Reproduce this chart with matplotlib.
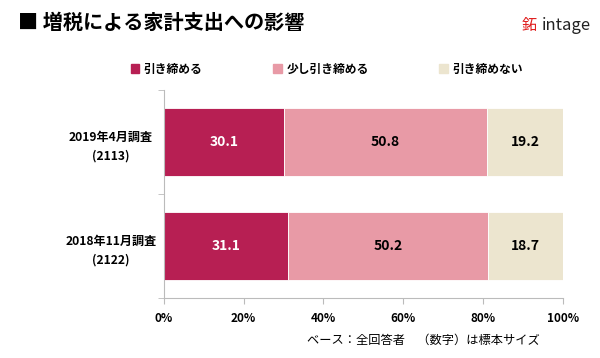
import numpy as np
import matplotlib.pyplot as plt
from matplotlib.patches import Patch

plt.rcParams['font.family'] = ['Noto Sans CJK JP', 'DejaVu Sans']

# data
surveys = ["2019年4月調査\n(2113)", "2018年11月調査\n(2122)"]
series_names = ["引き締める", "少し引き締める", "引き締めない"]
tighten = [30.1, 31.1]
tighten_little = [50.8, 50.2]
no_tighten = [19.2, 18.7]
colors = ["#B71F53", "#E89AA6", "#ECE5CF"]
text_colors = ["white", "black", "black"]

fig = plt.figure(figsize=(6, 3.58), dpi=100)
ax = fig.add_axes([0.273, 0.168, 0.665, 0.581])

y = np.arange(len(surveys))
left = np.zeros(len(surveys))
for vals, name, c, tc in zip([tighten, tighten_little, no_tighten], series_names, colors, text_colors):
    vals = np.array(vals)
    ax.barh(y, vals, left=left, height=0.66, color=c, label=name, edgecolor="white", linewidth=0.6)
    for yi, l, v in zip(y, left, vals):
        ax.text(l + v / 2, yi, f"{v:.1f}", ha="center", va="center", color=tc,
                fontsize=10, fontweight="bold")
    left += vals

ax.set_xlim(0, 100)
ax.set_ylim(1.5, -0.5)
ax.set_xticks(np.arange(0, 101, 20))
ax.set_xticklabels([f"{v}%" for v in range(0, 101, 20)], fontsize=8.5, fontweight="bold")
ax.set_yticks(y)
ax.set_yticklabels(surveys, fontsize=8.7, fontweight="bold", ha="center", linespacing=1.65)
ax.tick_params(axis="y", length=0, pad=38)
ax.set_yticks([-0.5, 0.5, 1.5], minor=True)
ax.tick_params(axis="y", which="minor", length=4, color="#BBBBBB")
ax.tick_params(axis="x", length=4, color="#BBBBBB", pad=6)
for s in ["top", "right"]:
    ax.spines[s].set_visible(False)
for s in ["left", "bottom"]:
    ax.spines[s].set_color("#BBBBBB")
    ax.spines[s].set_linewidth(0.8)

handles = [Patch(color=c) for c in colors]
fig.legend(handles, series_names, loc="center left", bbox_to_anchor=(0.21, 0.807), ncol=3,
           frameon=False, prop={"size": 8.5, "weight": "bold"}, handlelength=0.7, handleheight=0.7,
           handletextpad=0.4, columnspacing=6.0, borderaxespad=0)

fig.text(0.03, 0.937, "■ 増税による家計支出への影響", fontsize=14.5, fontweight="bold", va="center")
fig.text(0.512, 0.048, "ベース：全回答者　（数字）は標本サイズ", fontsize=8.8, va="center")

# logo
fig.text(0.903, 0.93, "intage", fontsize=12, color="#222222", va="center", ha="left")
fig.text(0.895, 0.93, "鉐", fontsize=11, color="#E02020", va="center", ha="right")

fig.savefig("out.png", dpi=100)
